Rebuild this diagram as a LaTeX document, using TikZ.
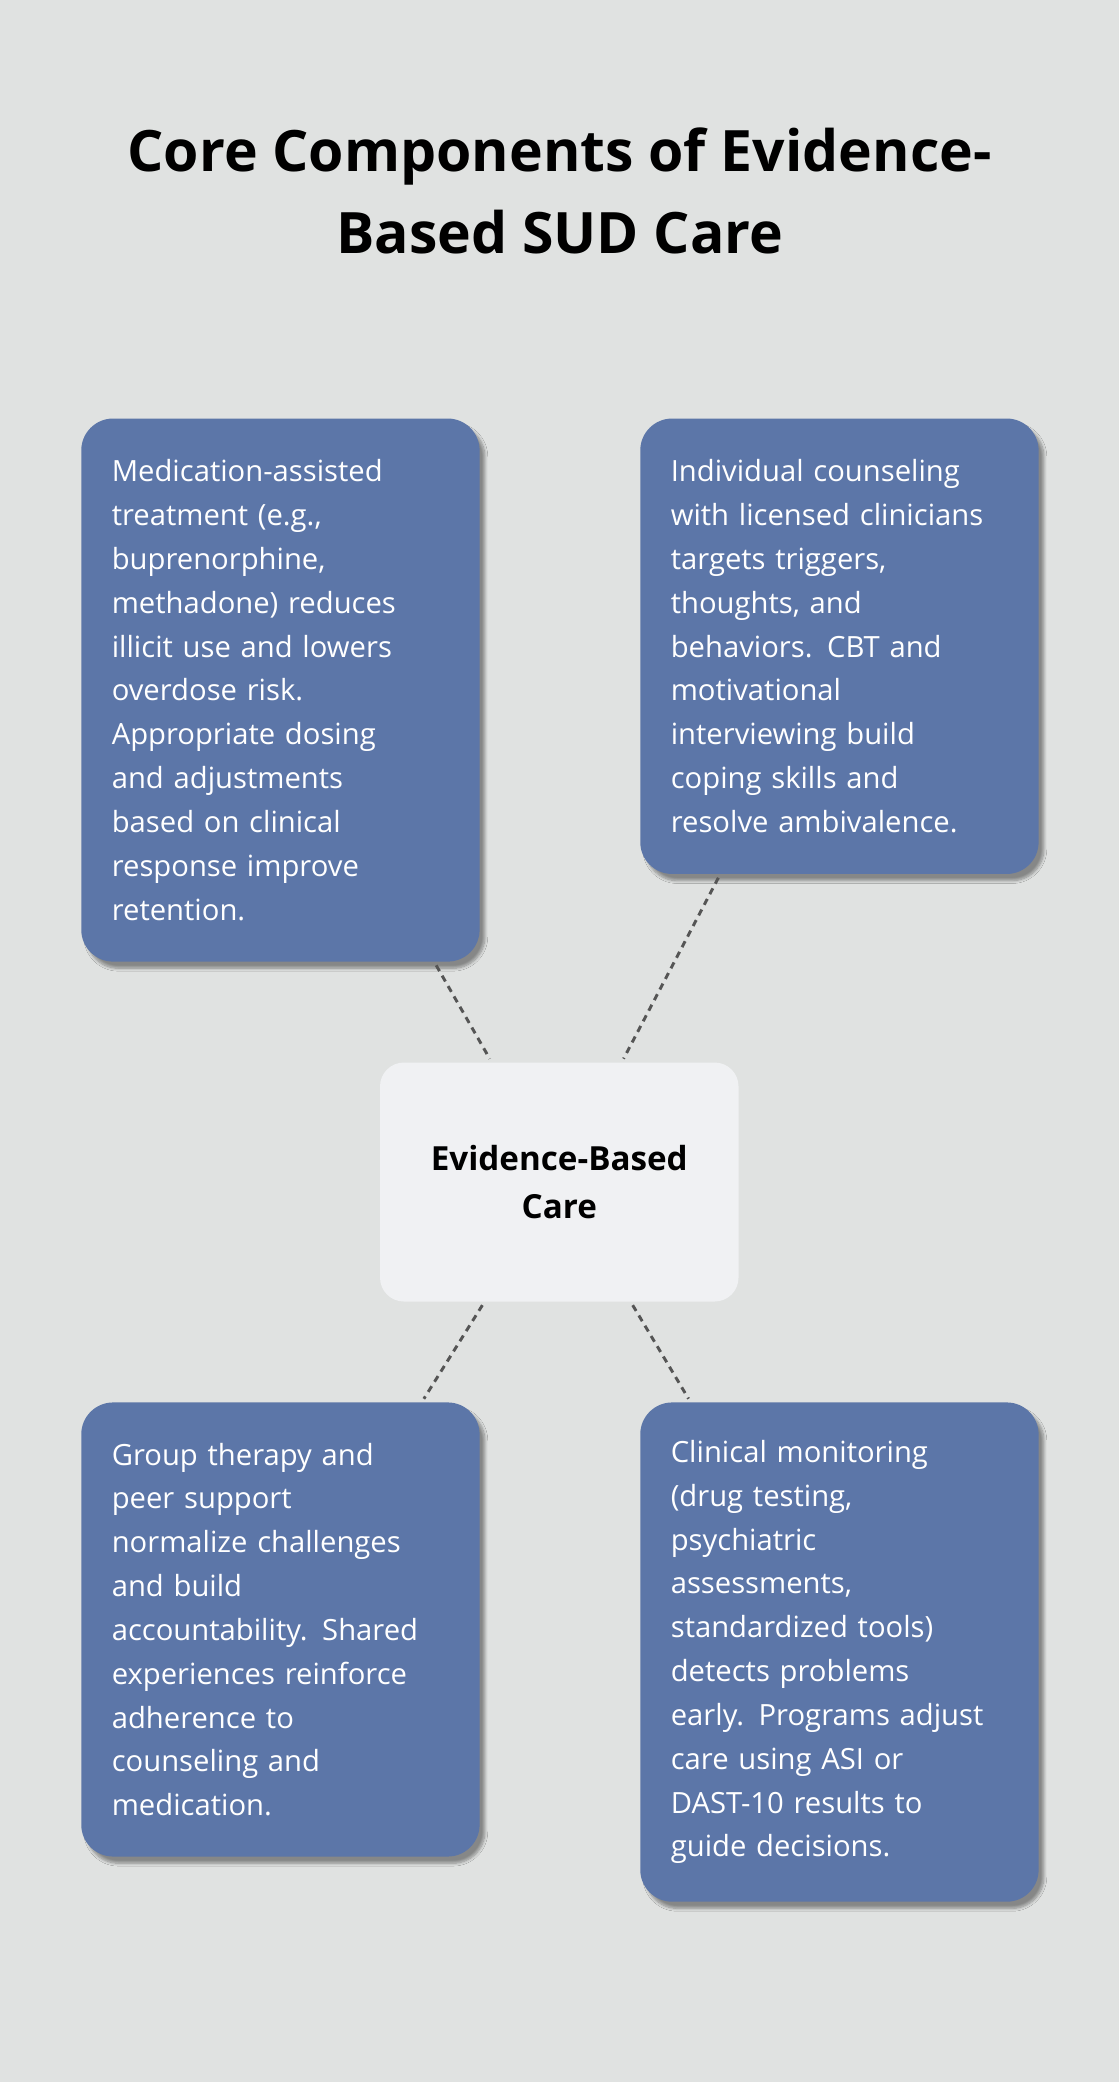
\documentclass[tikz,border=0pt]{standalone}
\usepackage{fontspec}
\setmainfont{Open Sans}
\usetikzlibrary{shadows.blur}
\definecolor{bgcol}{HTML}{E0E2E1}
\definecolor{boxcol}{HTML}{5C76A8}
\definecolor{hubcol}{HTML}{F0F1F3}
\definecolor{linkcol}{HTML}{555555}

\begin{document}
\begin{tikzpicture}[x=1pt, y=-1pt]
% -------------------------------------------------
% Box and connector styles
\tikzset{
  item/.style={draw=none, fill=boxcol, rounded corners=24pt, text=white,
    minimum width=300pt, text width=254pt, inner xsep=23pt, align=left,
    font={\fontsize{22}{33}\selectfont}, anchor=north west,
    blur shadow={shadow xshift=4pt, shadow yshift=-5pt, shadow blur steps=8}},
  hub/.style={fill=hubcol, rounded corners=18pt, minimum width=270pt,
    minimum height=180pt, align=center,
    font={\fontsize{25}{36}\selectfont\bfseries}, anchor=north west},
  link/.style={draw=linkcol, line width=2.2pt, dash pattern=on 5pt off 4pt,
    shorten <=3pt, shorten >=3pt}
}
\fill[bgcol] (0,0) rectangle (843,1568);
\useasboundingbox (0,0) rectangle (843,1568);
% -------------------------------------------------
% Title
\node[font={\fontsize{43}{62}\selectfont\bfseries}, align=center] (title)
  at (421.5,144) {Core Components of Evidence-\\Based SUD Care};
% -------------------------------------------------
% Boxes
\node[item, minimum height=409pt] (med) at (61,315) {Medication-assisted\\
treatment (e.g.,\\ buprenorphine,\\ methadone) reduces\\ illicit use and lowers\\
overdose risk.\\ Appropriate dosing\\ and adjustments\\ based on clinical\\
response improve\\ retention.};
\node[item, minimum height=343pt] (counsel) at (482,315) {Individual counseling\\
with licensed clinicians\\ targets triggers,\\ thoughts, and\\ behaviors. CBT and\\
motivational\\ interviewing build\\ coping skills and\\ resolve ambivalence.};
\node[hub] (care) at (286,800) {Evidence-Based\\ Care};
\node[item, minimum height=342pt] (group) at (61,1056) {Group therapy and\\
peer support\\ normalize challenges\\ and build\\ accountability. Shared\\
experiences reinforce\\ adherence to\\ counseling and\\ medication.};
\node[item, minimum height=376pt] (monitor) at (482,1056) {Clinical monitoring\\
(drug testing,\\ psychiatric\\ assessments,\\ standardized tools)\\
detects problems\\ early. Programs adjust\\ care using ASI or\\
DAST-10 results to\\ guide decisions.};
% -------------------------------------------------
% Connectors
\draw[link] (med) -- (care);
\draw[link] (counsel) -- (care);
\draw[link] (care) -- (group);
\draw[link] (care) -- (monitor);
\end{tikzpicture}
\end{document}
